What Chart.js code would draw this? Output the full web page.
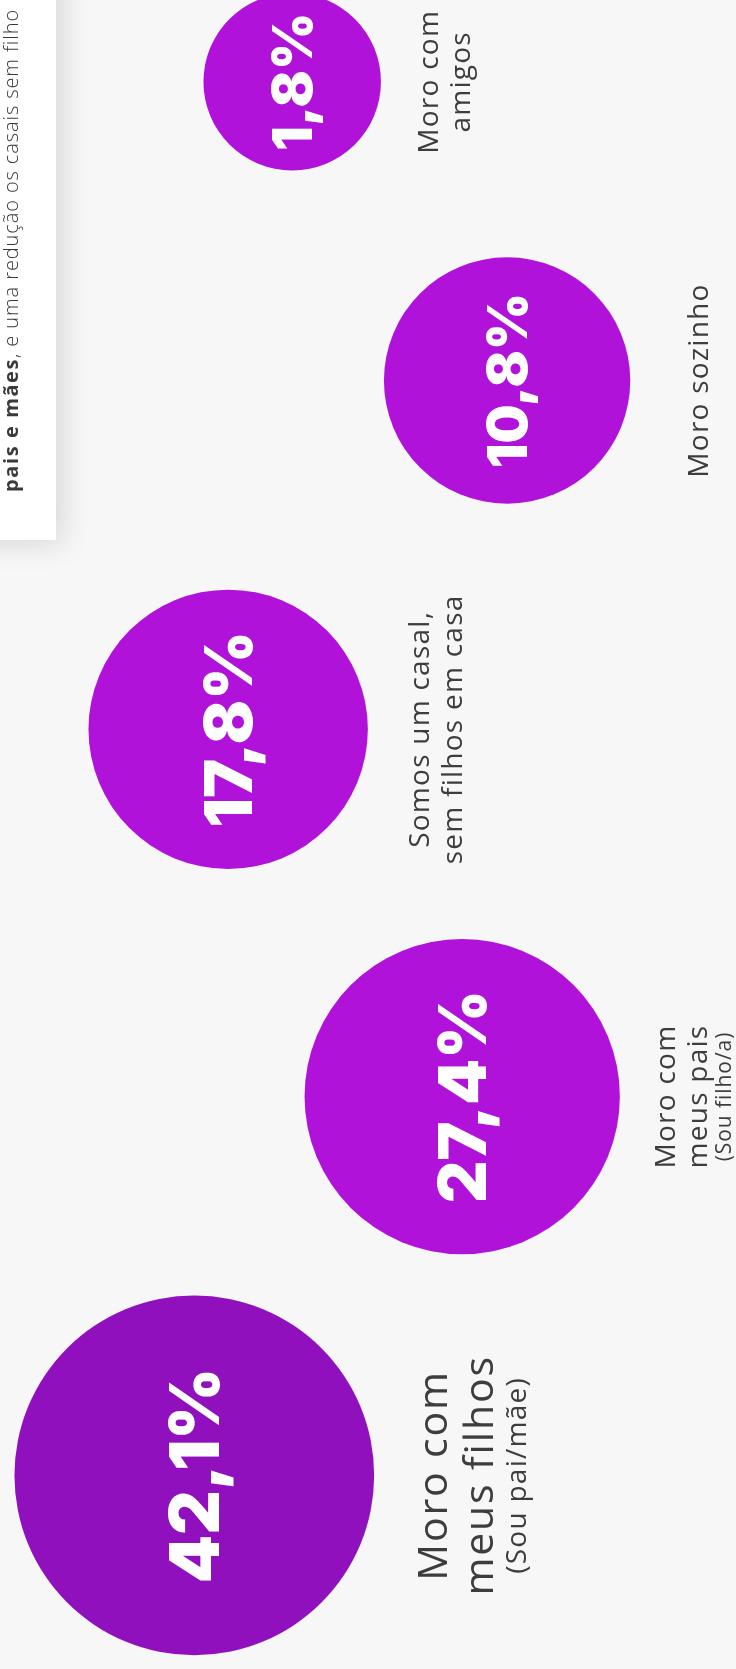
<!DOCTYPE html>
<html>
<head>
<meta charset="utf-8">
<script src="https://cdn.jsdelivr.net/npm/chart.js@4"></script>
<style>
  html, body { margin: 0; padding: 0; background: #f7f7f7; }
  canvas { display: block; }
</style>
</head>
<body>
<canvas id="chart" width="736" height="1669"></canvas>
<script>
// data
const categories = ['Moro com amigos', 'Moro sozinho', 'Somos um casal, sem filhos em casa', 'Moro com meus pais', 'Moro com meus filhos'];
const values = [1.8, 10.8, 17.8, 27.4, 42.1];
const labelLines = [
    ['Moro com', 'amigos'],
    ['Moro sozinho'],
    ['Somos um casal,', 'sem filhos em casa'],
    ['Moro com', 'meus pais'],
    ['Moro com', 'meus filhos']
];
const subLabels = ['', '', '', '(Sou filho/a)', '(Sou pai/mãe)'];

// where each bubble sits, in % of the chart width / height
const spots = [
    { x: 39.7, y: 4.9 },
    { x: 68.9, y: 22.8 },
    { x: 31.0, y: 43.7 },
    { x: 62.8, y: 65.7 },
    { x: 26.4, y: 88.4 }
];

const purple = '#b012da';
const darkPurple = '#9110be';
const textColor = '#3d3d3d';

function format(v) {
    return v.toFixed(1).replace('.', ',') + '%';
}

// bubble size grows with sqrt of the share
function radiusFor(v, chart) {
    return (65 + 17.7 * Math.sqrt(v)) * chart.width / 736;
}

const maxValue = Math.max(...values);

const background = {
    id: 'background',
    beforeDraw: (chart) => {
        const { ctx } = chart;
        ctx.save();
        ctx.fillStyle = '#f7f7f7';
        ctx.fillRect(0, 0, chart.width, chart.height);

        // the text card cut off at the top left
        ctx.shadowColor = 'rgba(0, 0, 0, 0.13)';
        ctx.shadowBlur = 28;
        ctx.shadowOffsetX = 6;
        ctx.shadowOffsetY = 4;
        ctx.fillStyle = '#ffffff';
        ctx.fillRect(-40, -40, 96, 580);
        ctx.restore();

        ctx.save();
        ctx.translate(18, 492);
        ctx.rotate(-Math.PI / 2);
        ctx.textAlign = 'left';
        ctx.textBaseline = 'alphabetic';
        ctx.fillStyle = '#3a3a3a';
        ctx.font = "700 20px 'Open Sans'";
        ctx.letterSpacing = '1.6px';
        const bold = 'pais e mães';
        ctx.fillText(bold, 0, 0);
        const w = ctx.measureText(bold).width;
        ctx.font = "300 20px 'Open Sans'";
        ctx.letterSpacing = '0.9px';
        ctx.fillText(', e uma redução os casais sem filho', w, 0);
        ctx.restore();
    }
};

// label: first baseline offset from bubble centre, line height, sub line offset, sizes
const labelStyle = [
    { dx: 146, size: 28, lh: 32, sub: 21, subGap: 24 },
    { dx: 201, size: 28, lh: 32, sub: 21, subGap: 24 },
    { dx: 201, size: 28, lh: 33, sub: 21, subGap: 24 },
    { dx: 213, size: 28, lh: 32, sub: 21, subGap: 24 },
    { dx: 253, size: 41, lh: 46, sub: 28, subGap: 33 }
];

const bubbleLabels = {
    id: 'bubbleLabels',
    afterDatasetsDraw: (chart) => {
        const { ctx } = chart;
        const meta = chart.getDatasetMeta(0);
        meta.data.forEach((el, i) => {
            const v = values[i];

            // value inside the bubble
            const size = v < 15 ? 55 : (v < 40 ? 66 : 69);
            ctx.save();
            ctx.translate(el.x + size * 0.727 / 2, el.y);
            ctx.rotate(-Math.PI / 2);
            ctx.textAlign = 'center';
            ctx.textBaseline = 'alphabetic';
            ctx.fillStyle = '#ffffff';
            ctx.font = `900 ${size}px Inter`;
            ctx.fillText(format(v), 0, 0);
            ctx.restore();

            // category label to the right
            const st = labelStyle[i];
            ctx.save();
            ctx.translate(el.x + st.dx, el.y);
            ctx.rotate(-Math.PI / 2);
            ctx.textAlign = 'center';
            ctx.textBaseline = 'alphabetic';
            ctx.fillStyle = textColor;
            ctx.font = `400 ${st.size}px 'Open Sans'`;
            ctx.letterSpacing = (st.size * 0.045).toFixed(2) + 'px';
            labelLines[i].forEach((line, k) => ctx.fillText(line, 0, k * st.lh));
            if (subLabels[i]) {
                ctx.font = `400 ${st.sub}px 'Open Sans'`;
                ctx.letterSpacing = (st.sub * 0.045).toFixed(2) + 'px';
                const last = (labelLines[i].length - 1) * st.lh;
                ctx.fillText(subLabels[i], 0, last + st.subGap);
            }
            ctx.restore();
        });
    }
};

const ctx = document.getElementById('chart').getContext('2d');

new Chart(ctx, {
    type: 'bubble',
    data: {
        labels: categories,
        datasets: [{
            data: values.map((v, i) => ({ x: spots[i].x, y: spots[i].y, v })),
            radius: (c) => radiusFor(values[c.dataIndex], c.chart),
            backgroundColor: values.map(v => v === maxValue ? darkPurple : purple),
            borderWidth: 0,
            hoverRadius: 0,
            clip: false
        }]
    },
    options: {
        responsive: false,
        animation: false,
        events: [],
        layout: { padding: 0, autoPadding: false },
        scales: {
            x: { type: 'linear', min: 0, max: 100, display: false },
            y: { type: 'linear', min: 0, max: 100, reverse: true, display: false }
        },
        plugins: {
            legend: { display: false },
            tooltip: { enabled: false }
        }
    },
    plugins: [background, bubbleLabels]
});
</script>
</body>
</html>
